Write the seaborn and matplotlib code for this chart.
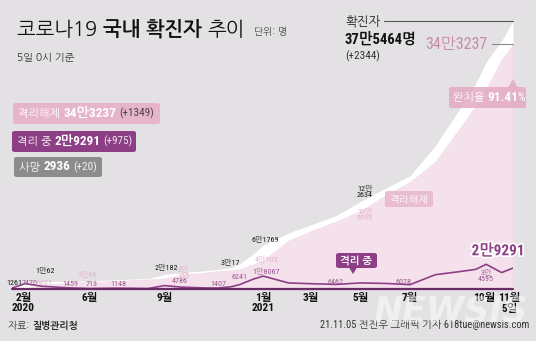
import matplotlib
matplotlib.use("Agg")
import matplotlib.pyplot as plt
import matplotlib.patheffects as pe
from matplotlib.patches import FancyBboxPatch, Polygon
import seaborn as sns
import pandas as pd

sns.set_theme(style="white")
KRF = ["NanumGothic", "Noto Sans CJK KR", "DejaVu Sans"]
NARROW = ["Roboto Condensed", "NanumGothic", "Noto Sans CJK KR", "DejaVu Sans"]
plt.rcParams["font.family"] = KRF

# ---- data: cumulative confirmed, cumulative released, currently isolating ----
dates = ["2020-02-26", "2020-03-13", "2020-04-03", "2020-05-08", "2020-06-01",
         "2020-07-05", "2020-08-12", "2020-09-01", "2020-09-22", "2020-10-20",
         "2020-11-06", "2020-11-22", "2020-12-03", "2020-12-20", "2021-01-01",
         "2021-02-01", "2021-03-01", "2021-04-01", "2021-05-01", "2021-06-01",
         "2021-07-01", "2021-08-01", "2021-09-01", "2021-09-20", "2021-10-03",
         "2021-10-22", "2021-11-05"]
total_cases = [1261, 7979, 10062, 10822, 11503, 13091, 14770, 20182, 23106, 25424,
               27284, 30017, 35163, 49665, 61769, 78508, 90029, 103088, 122634, 141476,
               158549, 200704, 253445, 288000, 318000, 348000, 375464]
released = [24, 510, 6021, 9333, 10066, 11685, 13766, 15198, 20155, 23200,
            25520, 26466, 28400, 34950, 40703, 68000, 81500, 95000, 109595, 131700,
            150400, 178500, 226600, 257600, 281000, 322000, 343237]
isolating = [1225, 7470, 3867, 1459, 713, 1148, 700, 4786, 2600, 1500,
             1407, 3100, 6241, 14000, 18067, 8500, 7400, 6462, 8500, 7800,
             6078, 20000, 24500, 27500, 34595, 23000, 29291]
deaths_total = 2936

tick_dates = ["2020-02-26", "2020-06-01", "2020-09-01", "2021-01-01", "2021-03-01",
              "2021-05-01", "2021-07-01", "2021-10-01", "2021-11-01"]
tick_labels = ["2월\n2020", "6월", "9월", "1월\n2021", "3월", "5월", "7월", "10월", "11월\n5일"]

# value labels: (date, series, text, dx px, dy px)
value_tags = [
    ("2020-02-26", "total", "1261", 2, 5),
    ("2020-04-03", "total", "1만62", 3, 11),
    ("2020-09-01", "total", "2만182", 2, 7),
    ("2020-11-22", "total", "3만17", -1, 5),
    ("2021-01-01", "total", "6만1769", 2, 5),
    ("2021-05-01", "total", "12만\n2634", 4, 10),
    ("2020-04-03", "released", "6021", 3, 2),
    ("2020-06-01", "released", "1만66", -3, 7),
    ("2020-09-22", "released", "2만\n155", 2, 2),
    ("2021-01-01", "released", "4만703", 3, 0),
    ("2021-05-01", "released", "10만\n9595", 4, -3.5),
    ("2020-03-13", "isolating", "7470", 5, 1),
    ("2020-05-08", "isolating", "1459", 0, 4),
    ("2020-06-01", "isolating", "713", 2, 4.5),
    ("2020-07-05", "isolating", "1148", 1, 4),
    ("2020-09-01", "isolating", "4786", 15, 4.5),
    ("2020-11-06", "isolating", "1407", 0, 4),
    ("2020-12-03", "isolating", "6241", 0, 8),
    ("2021-01-01", "isolating", "1만8067", 3, 4.5),
    ("2021-04-01", "isolating", "6462", -1, 2.5),
    ("2021-07-01", "isolating", "6078", -7, 2.7),
    ("2021-10-03", "isolating", "3만\n4595", 0, -11.7),
]

df = pd.DataFrame({"date": pd.to_datetime(dates), "total": total_cases,
                   "released": released, "isolating": isolating})

BG = "#e3e1e3"
PINK_FILL = "#f5e1eb"
PINK_BOX = "#e6b5cb"
PURPLE = "#8d3f86"
GRAY_BOX = "#8c8c8c"
TAG_COL = {"total": "#1a1a1a", "released": "#e2b2c8", "isolating": "#9a5792"}

W, H = 536, 341
fig = plt.figure(figsize=(W / 100, H / 100), dpi=100)
fig.patch.set_facecolor(BG)


def fx(x):
    return x / W


def fy(y):
    return 1 - y / H


ax = fig.add_axes([fx(12), fy(289), (513 - 12) / W, (289 - 21) / H])
ax.set_facecolor("none")
ax.fill_between(df["date"], df["released"], df["total"], color="white", lw=0, zorder=1)
ax.fill_between(df["date"], 0, df["released"], color=PINK_FILL, lw=0, zorder=2)
ax.plot([df["date"].iloc[-1]] * 2, [0, df["released"].iloc[-1]], color="#e9c3d4", lw=1, zorder=3)
sns.lineplot(data=df, x="date", y="isolating", color=PURPLE, lw=1.2, ax=ax, zorder=4)
ax.axhline(0, color="#6e2a66", lw=1.6, zorder=5, clip_on=False)

ax.set_xlim(df["date"].iloc[0], df["date"].iloc[-1])
ax.set_ylim(0, df["total"].iloc[-1])
for s in ax.spines.values():
    s.set_visible(False)
ax.set_yticks([])
ax.set_xlabel("")
ax.set_ylabel("")
ax.set_xticks(pd.to_datetime(tick_dates))
ax.set_xticklabels(tick_labels, fontsize=8.2, fontweight="bold", family=NARROW,
                   linespacing=1.1, color="#111111", ma="center")
ax.tick_params(axis="x", length=0, pad=2.5)
ax.get_xticklabels()[0].set_ha("left")

# value labels along the curves
for d, series, txt, dx, dy in value_tags:
    val = df.loc[df["date"] == pd.Timestamp(d), series].iloc[0]
    ax.annotate(txt, xy=(pd.Timestamp(d), val), xytext=(dx * 0.72, dy * 0.72),
                textcoords="offset points", ha="center", va="center",
                fontsize=5.8, family=NARROW, color=TAG_COL[series],
                linespacing=0.9, zorder=6)

last = df.iloc[-1]
ax.annotate("2만9291", xy=(last["date"], last["isolating"]), xytext=(-15 * 0.72, 17 * 0.72),
            textcoords="offset points", ha="center", va="center", fontsize=11,
            fontweight="bold", family=NARROW, color=PURPLE, zorder=7,
            path_effects=[pe.withStroke(linewidth=2.5, foreground="white")])

renderer = fig.canvas.get_renderer()


def runs(x, y, pieces, va="center"):
    """Draw text pieces one after another starting at pixel (x, y)."""
    cx = x
    for txt, kw, gap in pieces:
        t = fig.text(fx(cx), fy(y), txt, ha="left", va=va, **kw)
        cx += t.get_window_extent(renderer).width + gap
    return cx


def box(x0, y0, x1, y1, color, alpha=1.0, r=3):
    p = FancyBboxPatch((fx(x0), fy(y1)), (x1 - x0) / W, (y1 - y0) / H,
                       boxstyle=f"round,pad=0,rounding_size={r / W}",
                       transform=fig.transFigure, facecolor=color, edgecolor="none",
                       alpha=alpha, zorder=8)
    fig.add_artist(p)


def tri(points, color, alpha=1.0):
    p = Polygon([(fx(a), fy(b)) for a, b in points], closed=True, transform=fig.transFigure,
                facecolor=color, edgecolor="none", alpha=alpha, zorder=8)
    fig.add_artist(p)


# title block
runs(17, 29, [("코로나19 ", dict(fontsize=14.3, color="#111111"), 0),
              ("국내 확진자 ", dict(fontsize=14.3, color="#111111", fontweight="bold"), 0),
              ("추이", dict(fontsize=14.3, color="#111111"), 0)])
fig.text(fx(254), fy(31), "단위: 명", fontsize=7, color="#444444", va="center")
fig.text(fx(17), fy(58), "5일 0시 기준", fontsize=7.5, color="#333333", va="center")

# headline totals on the right
fig.text(fx(345), fy(22), "확진자", fontsize=9, color="#222222", va="center")
fig.text(fx(345), fy(39), "37만5464명", fontsize=10.5, fontweight="bold", family=NARROW,
         color="#111111", va="center")
fig.text(fx(345), fy(56), "(+2344)", fontsize=8, family=NARROW, color="#333333", va="center")
fig.add_artist(plt.Line2D([fx(384), fx(513)], [fy(21), fy(21)], color="#555555", lw=0.8,
                          transform=fig.transFigure, zorder=9))
fig.text(fx(488), fy(44), "34만3237", fontsize=11.5, family=NARROW, color="#c98aa6",
         va="center", ha="right")
fig.add_artist(plt.Line2D([fx(492), fx(513)], [fy(44), fy(44)], color="#8a8a8a", lw=0.8,
                          transform=fig.transFigure, zorder=9))

# recovery-rate callout
box(449, 87, 526, 108, "#e3aac3", alpha=0.85)
tri([(508, 87.5), (518, 87.5), (513, 79)], "#e3aac3", alpha=0.85)
runs(453, 97.5, [("완치율 ", dict(fontsize=8, color="white", zorder=9), 0),
                 ("91.41", dict(fontsize=9.5, color="white", fontweight="bold",
                                family=NARROW, zorder=9), -1),
                 ("%", dict(fontsize=8.5, color="white", family=NARROW, zorder=9), 0)])

# legend boxes
box(13, 103, 160, 124, PINK_BOX)
runs(18, 113.5, [("격리해제 ", dict(fontsize=8, color="white", zorder=9), 0),
                 ("34만3237", dict(fontsize=9.5, color="white", fontweight="bold",
                                   family=NARROW, zorder=9), 3),
                 ("(+1349)", dict(fontsize=8, color="#4d3f49", family=NARROW, zorder=9), 0)])
box(12, 131, 136, 152, PURPLE)
runs(17, 141.5, [("격리 중 ", dict(fontsize=8, color="white", zorder=9), 0),
                 ("2만9291", dict(fontsize=9.5, color="white", fontweight="bold",
                                  family=NARROW, zorder=9), 3),
                 ("(+975)", dict(fontsize=8, color="#f1e4ef", family=NARROW, zorder=9), 0)])
box(14, 157, 102, 177, GRAY_BOX)
runs(19, 167, [("사망 ", dict(fontsize=8, color="white", zorder=9), 0),
               (f"{deaths_total}", dict(fontsize=9.5, color="white", fontweight="bold",
                                        family=NARROW, zorder=9), 3),
               ("(+20)", dict(fontsize=8, color="#f2f2f2", family=NARROW, zorder=9), 0)])

# in-plot series tags
box(385, 191, 433, 207, "#e9bcd0")
fig.text(fx(409), fy(199), "격리해제", fontsize=7.5, color="white", ha="center", va="center",
         zorder=9)
box(336, 253, 377, 268, PURPLE)
tri([(349, 267.5), (357, 267.5), (353, 274)], PURPLE)
fig.text(fx(356.5), fy(260.5), "격리 중", fontsize=7.5, color="white", fontweight="bold",
         ha="center", va="center", zorder=9)

# watermark
fig.text(fx(450), fy(311), "NEWSIS", fontsize=25, fontweight="bold", style="italic",
         family="DejaVu Sans", color="white", alpha=0.5, ha="center", va="center", zorder=10)

# footer
runs(8, 325, [("자료: ", dict(fontsize=7, color="#333333"), 0),
              ("질병관리청", dict(fontsize=7, color="#222222", fontweight="bold"), 0)])
fig.text(fx(529), fy(325), "21.11.05 전진우 그래픽 기자 618tue@newsis.com", fontsize=7.5,
         family=NARROW, color="#333333", ha="right", va="center")

fig.savefig("out.png", dpi=100, facecolor=BG)
